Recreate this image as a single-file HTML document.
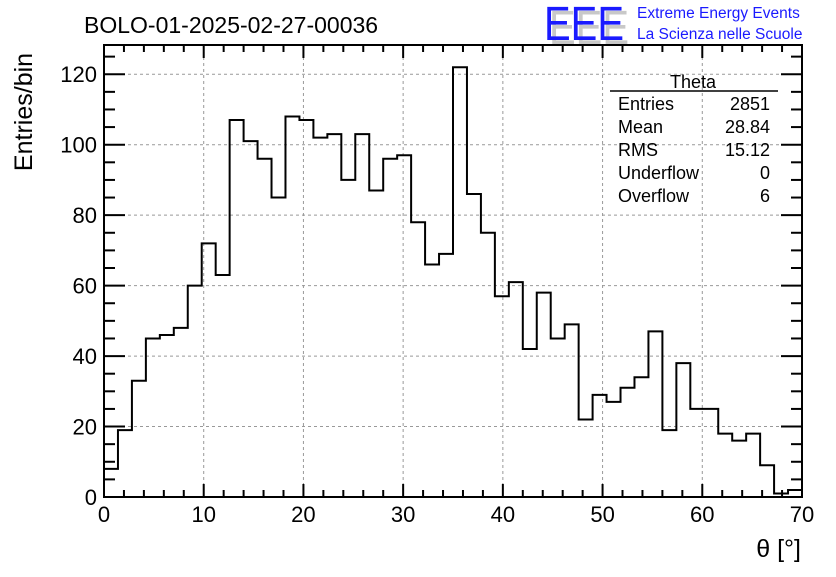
<!DOCTYPE html>
<html><head><meta charset="utf-8"><style>
body{margin:0;background:#fff;}
svg text{font-family:"Liberation Sans",sans-serif;}
</style></head><body>
<svg id="chart" width="836" height="572" viewBox="0 0 836 572" xmlns="http://www.w3.org/2000/svg">
<rect width="836" height="572" fill="#fff"/>
<text x="84" y="33" font-size="23">BOLO-01-2025-02-27-00036</text>
<g>
<text x="0" y="0" font-size="40" fill="#c8c8c8" transform="translate(549,44) scale(1,1.2)" textLength="80" lengthAdjust="spacingAndGlyphs">EEE</text>
<text x="0" y="0" font-size="40" fill="#1a1aff" transform="translate(544,40) scale(1,1.2)" textLength="80" lengthAdjust="spacingAndGlyphs">EEE</text>
<text x="637" y="18" font-size="15.5" fill="#1a1aff">Extreme Energy Events</text>
<text x="637" y="39" font-size="15.5" fill="#1a1aff">La Scienza nelle Scuole</text>
</g>
<g id="grid"></g>
<g id="ticks"></g>
<path id="hist" fill="none" stroke="#000" stroke-width="2"/>
<rect x="104" y="45" width="698" height="452" fill="none" stroke="#000" stroke-width="2"/>
<g id="labels"></g>
<text transform="translate(32,112) rotate(-90)" text-anchor="middle" font-size="25">Entries/bin</text>
<text x="801" y="557" text-anchor="end" font-size="25">θ [°]</text>
<g font-size="18">
<text x="693" y="88" text-anchor="middle">Theta</text>
<line x1="610" y1="91" x2="778" y2="91" stroke="#000" stroke-width="1.5"/>
<text x="618" y="110">Entries</text><text x="770" y="110" text-anchor="end">2851</text>
<text x="618" y="133">Mean</text><text x="770" y="133" text-anchor="end">28.84</text>
<text x="618" y="156">RMS</text><text x="770" y="156" text-anchor="end">15.12</text>
<text x="618" y="179">Underflow</text><text x="770" y="179" text-anchor="end">0</text>
<text x="618" y="202">Overflow</text><text x="770" y="202" text-anchor="end">6</text>
</g>
</svg>
<script>
const binCounts = [8,19,33,45,46,48,60,72,63,107,101,96,85,108,107,102,103,90,103,87,96,97,78,66,69,122,86,75,57,61,42,58,45,49,22,29,27,31,34,47,19,38,25,25,18,16,18,9,1,2];
const xTickLabels = [0,10,20,30,40,50,60,70];
const yTickLabels = [0,20,40,60,80,100,120];
const xMin = 0, xMax = 70, yMin = 0, yMax = 128.3;
const L=104,R=802,T=45,B=497;
const sx = v => L + (v - xMin) / (xMax - xMin) * (R - L);
const sy = v => B - (v - yMin) / (yMax - yMin) * (B - T);
const NS="http://www.w3.org/2000/svg";
function mk(tag, attrs, parent){const e=document.createElementNS(NS,tag);for(const k in attrs)e.setAttribute(k,attrs[k]);parent.appendChild(e);return e;}
const grid=document.getElementById('grid'), ticks=document.getElementById('ticks'), labels=document.getElementById('labels');
xTickLabels.forEach(v=>{
  const x=sx(v);
  if(v>xMin&&v<xMax){const g=mk('line',{x1:x,x2:x,y1:T,y2:B,stroke:'#999','stroke-dasharray':'3,3','stroke-width':1},grid);
  
  }
  const t=mk('text',{x:x,y:522,'text-anchor':'middle','font-size':22},labels);t.textContent=v;
  
  
});
yTickLabels.forEach(v=>{
  const y=sy(v);
  if(v>yMin){const g=mk('line',{x1:L,x2:R,y1:y,y2:y,stroke:'#999','stroke-dasharray':'3,3','stroke-width':1},grid);
  
  }
  const t=mk('text',{x:97,y:y+8,'text-anchor':'end','font-size':22},labels);t.textContent=v;
  
  
});
for(let v=xMin;v<=xMax;v+=2){const x=sx(v);const len=(v%10===0)?13:7;
  mk('line',{x1:x,x2:x,y1:B,y2:B-len,stroke:'#000','stroke-width':2},ticks);
  mk('line',{x1:x,x2:x,y1:T,y2:T+len,stroke:'#000','stroke-width':2},ticks);}
for(let v=0;v<=125;v+=5){const y=sy(v);const len=(v%20===0)?21:11;
  mk('line',{x1:L,x2:L+len,y1:y,y2:y,stroke:'#000','stroke-width':2},ticks);
  mk('line',{x1:R,x2:R-len,y1:y,y2:y,stroke:'#000','stroke-width':2},ticks);}
const bw=(xMax-xMin)/binCounts.length;
let d='';
binCounts.forEach((c,i)=>{const x0=sx(xMin+i*bw),x1=sx(xMin+(i+1)*bw),y=sy(c);
  d+=(i===0?`M${x0},${y}`:`L${x0},${y}`)+`L${x1},${y}`;});
document.getElementById('hist').setAttribute('d',d);
</script>
</body></html>
